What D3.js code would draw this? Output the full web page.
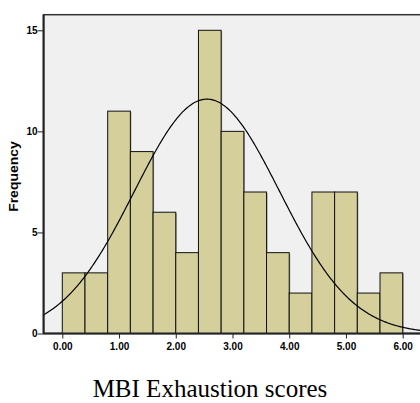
<!DOCTYPE html>
<html lang="en">
<head>
  <meta charset="utf-8">
  <title>MBI Exhaustion histogram</title>
  <script src="https://d3js.org/d3.v7.min.js" charset="utf-8"></script>
  <style type="text/css">
    body { margin: 0; background: #fff; }
    .bar { fill: #d4cf9b; stroke: #111; stroke-width: 1; }
    .tick text { font-family: "Liberation Sans", Arial, sans-serif; font-weight: bold; }
  </style>
</head>
<body>
  <script type="text/javascript">

    // bins of width 0.4 from 0.00 to 6.00
    var binStarts = [0.0, 0.4, 0.8, 1.2, 1.6, 2.0, 2.4, 2.8, 3.2, 3.6, 4.0, 4.4, 4.8, 5.2, 5.6];
    var binWidth = 0.4;
    var frequencies = [3, 3, 11, 9, 6, 4, 15, 10, 7, 4, 2, 7, 7, 2, 3];
    var xTicks = [0, 1, 2, 3, 4, 5, 6];
    var yTicks = [0, 5, 10, 15];
    // normal curve parameters (SPSS fitted curve)
    var curveMean = 2.55, curveSd = 1.28, curveN = 93;

    var width = 420, height = 403;

    var svg = d3.select("body").append("svg")
      .attr("width", width)
      .attr("height", height);

    var x = d3.scaleLinear().domain([0, 6]).range([62.3, 402.7]);
    var y = d3.scaleLinear().domain([0, 15]).range([333.5, 30.3]);

    var plotLeft = x(-0.33), plotTop = 14.7, plotRight = 421, plotBottom = y(0);

    // plot background + frame
    svg.append("rect")
      .attr("x", plotLeft).attr("y", plotTop)
      .attr("width", plotRight - plotLeft).attr("height", plotBottom - plotTop)
      .attr("fill", "#f0f0f0")
      .attr("stroke", "#333")
      .attr("stroke-width", 1.5);

    // bar shadows (grey edge on right side)
    svg.selectAll(".shadow")
      .data(frequencies)
      .enter()
      .append("rect")
      .attr("class", "shadow")
      .attr("x", function (d, i) { return x(binStarts[i]) + 1; })
      .attr("y", function (d) { return y(d) + 1; })
      .attr("width", x(binWidth) - x(0))
      .attr("height", function (d) { return plotBottom - y(d) - 1; })
      .attr("fill", "#999");

    svg.selectAll(".bar")
      .data(frequencies)
      .enter()
      .append("rect")
      .attr("class", "bar")
      .attr("x", function (d, i) { return x(binStarts[i]); })
      .attr("y", function (d) { return y(d); })
      .attr("width", x(binWidth) - x(0))
      .attr("height", function (d) { return plotBottom - y(d); });

    // normal curve
    var peak = curveN * binWidth / (curveSd * Math.sqrt(2 * Math.PI));
    var curveX = d3.range(-0.33, 6.32, 0.02);
    var line = d3.line()
      .x(function (v) { return x(v); })
      .y(function (v) { return y(peak * Math.exp(-Math.pow(v - curveMean, 2) / (2 * curveSd * curveSd))); })
      .curve(d3.curveBasis);

    svg.append("path")
      .datum(curveX)
      .attr("d", line)
      .attr("fill", "none")
      .attr("stroke", "#000")
      .attr("stroke-width", 1.2);

    // x axis
    var xAxis = svg.append("g")
      .attr("transform", "translate(0," + plotBottom + ")")
      .call(d3.axisBottom(x).tickValues(xTicks).tickFormat(d3.format(".2f")).tickSize(5).tickSizeOuter(0));
    xAxis.select(".domain").remove();
    xAxis.selectAll("line").attr("stroke", "#222");
    xAxis.selectAll("text").attr("font-size", "10px").attr("fill", "#000").attr("dy", "0.85em");

    svg.append("line")
      .attr("x1", plotLeft).attr("x2", plotRight)
      .attr("y1", plotBottom).attr("y2", plotBottom)
      .attr("stroke", "#222").attr("stroke-width", 2);

    // y axis
    var yAxis = svg.append("g")
      .attr("transform", "translate(" + plotLeft + ",0)")
      .call(d3.axisLeft(y).tickValues(yTicks).tickSize(6).tickSizeOuter(0));
    yAxis.select(".domain").remove();
    yAxis.selectAll("line").attr("stroke", "#222");
    yAxis.selectAll("text").attr("font-size", "10px").attr("fill", "#000").attr("x", -6);

    svg.append("line")
      .attr("x1", plotLeft).attr("x2", plotLeft)
      .attr("y1", plotTop).attr("y2", plotBottom)
      .attr("stroke", "#222").attr("stroke-width", 2);

    // y label
    svg.append("text")
      .attr("transform", "translate(17.5,176.5) rotate(-90) scale(1,0.85)")
      .attr("text-anchor", "middle")
      .attr("font-family", "Liberation Sans, Arial, sans-serif")
      .attr("font-weight", "bold")
      .attr("font-size", "14px")
      .text("Frequency");

    // caption
    svg.append("text")
      .attr("x", 210)
      .attr("y", 397)
      .attr("text-anchor", "middle")
      .attr("font-family", "Liberation Serif, Times New Roman, serif")
      .attr("font-size", "25px")
      .text("MBI Exhaustion scores");

  </script>
</body>
</html>
